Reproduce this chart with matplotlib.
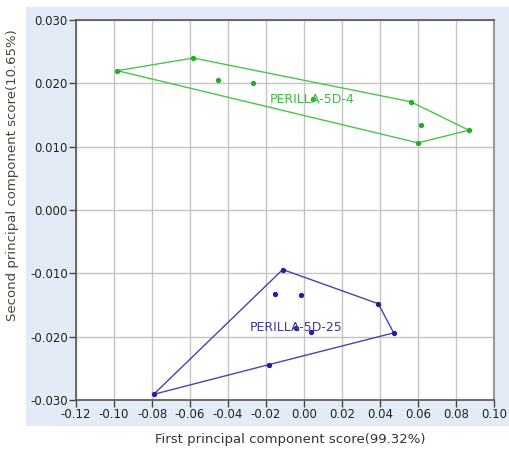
import matplotlib.pyplot as plt
from matplotlib.patches import Rectangle

# PCA scores per cultivar
green_x = [-0.0983, -0.0583, -0.0454, -0.0270, 0.0049, 0.0561, 0.0614, 0.0868, 0.0600]
green_y = [0.0220, 0.0240, 0.0205, 0.0201, 0.0175, 0.0171, 0.0134, 0.0126, 0.0106]
green_hull = [0, 1, 5, 7, 8, 0]

blue_x = [-0.0112, -0.0151, -0.0017, -0.0042, 0.0035, 0.0391, 0.0472, -0.0183, -0.0791]
blue_y = [-0.0094, -0.0132, -0.0134, -0.0186, -0.0192, -0.0148, -0.0194, -0.0244, -0.0291]
blue_hull = [0, 5, 6, 7, 8, 0]

groups = ['PERILLA-5D-4', 'PERILLA-5D-25']
label_pos = [(0.0044, 0.0175), (-0.0043, -0.0186)]

x_ticks = [-0.12, -0.10, -0.08, -0.06, -0.04, -0.02, 0.00, 0.02, 0.04, 0.06, 0.08, 0.10]
y_ticks = [-0.030, -0.020, -0.010, 0.000, 0.010, 0.020, 0.030]

W, H = 509, 449
fig = plt.figure(figsize=(W / 100, H / 100), dpi=100)
fig.patch.set_facecolor('white')

# light blue backdrop panel behind the plot
fig.patches.append(Rectangle((26 / W, 1 - 426 / H), (W - 26) / W, (426 - 7) / H,
                             transform=fig.transFigure, facecolor='#e3ecf6',
                             edgecolor='none', zorder=-10))

ax = fig.add_axes([76 / W, 1 - 400 / H, (494 - 76) / W, (400 - 20) / H])
ax.set_facecolor('white')
ax.set_xlim(-0.12, 0.10)
ax.set_ylim(-0.030, 0.030)
ax.set_xticks(x_ticks)
ax.set_yticks(y_ticks)
ax.set_xticklabels([f'{v:.2f}' for v in x_ticks])
ax.set_yticklabels([f'{v:.3f}' for v in y_ticks])
ax.grid(True, color='#c4c4c4', linewidth=1.0)
ax.set_axisbelow(True)
ax.tick_params(direction='out', length=5, width=1, color='#444444',
               labelsize=8.5, labelcolor='#222222', pad=1)
for side in ['left', 'bottom', 'top']:
    ax.spines[side].set_color('#555555')
    ax.spines[side].set_linewidth(1.2)
ax.spines['right'].set_color('#999999')
ax.spines['right'].set_linewidth(1.5)

green = '#4cc44c'
blue = '#4646a8'

ax.plot([green_x[i] for i in green_hull], [green_y[i] for i in green_hull],
        color=green, linewidth=1.0)
ax.scatter(green_x, green_y, s=8, color='#22b022', zorder=3)
ax.plot([blue_x[i] for i in blue_hull], [blue_y[i] for i in blue_hull],
        color=blue, linewidth=1.0)
ax.scatter(blue_x, blue_y, s=8, color='#2020a0', zorder=3)

ax.text(*label_pos[0], groups[0], color='#40bb40', fontsize=9,
        ha='center', va='center')
ax.text(*label_pos[1], groups[1], color='#3a3aa0', fontsize=9,
        ha='center', va='center')

fig.text(290 / W, 1 - 440 / H, 'First principal component score(99.32%)',
         ha='center', va='center', fontsize=9.5, color='#333333')
fig.text(13 / W, 1 - 175 / H, 'Second principal component score(10.65%)',
         ha='center', va='center', rotation=90, fontsize=9.5, color='#4a4536')

fig.savefig('out.png', dpi=100)
